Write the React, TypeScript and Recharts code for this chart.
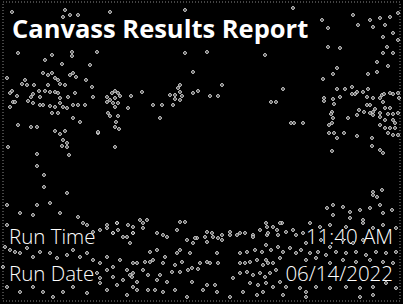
import { ScatterChart, Scatter, XAxis, YAxis, Customized } from "recharts";

// speckle positions, in picture pixels (x, y from top)
const TOP_SPECKS: [number, number][] = [
  [12, 12], [63, 17], [70, 15], [65, 10], [78, 15], [110, 12], [185, 10],
  [18, 53], [72, 52], [72, 56], [97, 52], [185, 53], [207, 52], [52, 55], [45, 60],
  [322, 20], [328, 28], [328, 47], [340, 48], [265, 55], [293, 8],
  [353, 15], [358, 25], [370, 20], [373, 27], [380, 18], [385, 25], [390, 17],
  [393, 33], [383, 37], [387, 47], [393, 53], [383, 53], [398, 13], [398, 40],
];

const LEFT_CLUSTER: [number, number][] = [
  [62, 64], [90, 65], [43, 73], [48, 75], [52, 73], [70, 75], [73, 73], [76, 77],
  [55, 78], [58, 80], [86, 80], [7, 78], [25, 80], [22, 84], [27, 85], [34, 85],
  [48, 85], [60, 84], [65, 85], [12, 91], [10, 93], [17, 96], [39, 91], [45, 91],
  [50, 92], [55, 92], [33, 94], [31, 97], [40, 97], [58, 93], [60, 98], [75, 93],
  [92, 87], [68, 97], [93, 97], [13, 102], [10, 107], [15, 102], [28, 101], [33, 103],
  [40, 105], [43, 105], [50, 106], [55, 107], [60, 103], [63, 107], [67, 108],
  [73, 105], [78, 105], [85, 105], [52, 113], [58, 113], [73, 118], [80, 122],
  [18, 125], [31, 127], [37, 127], [55, 131], [60, 134], [65, 131], [98, 133],
  [63, 140], [67, 143], [62, 146], [67, 147], [8, 147], [69, 155], [37, 154],
  [37, 166], [44, 175], [44, 187], [67, 193],
];

const MID_CLUSTER: [number, number][] = [
  [115, 91], [118, 93], [112, 93], [107, 97], [110, 100], [115, 98], [120, 96],
  [113, 103], [118, 103], [107, 102], [131, 96], [128, 108], [115, 107], [108, 113],
  [110, 116], [118, 116], [116, 122], [115, 127], [119, 129], [98, 132], [115, 147],
  [142, 92], [153, 105], [162, 105], [173, 105], [160, 118], [170, 95], [175, 95],
  [175, 99], [180, 92], [182, 96], [180, 100], [178, 88], [180, 85], [193, 93],
  [198, 91], [193, 72], [222, 85], [210, 96], [218, 96], [283, 89], [271, 102],
  [276, 102], [291, 123], [294, 123], [303, 123],
];

const RIGHT_CLUSTER: [number, number][] = [
  [337, 68], [333, 74], [368, 74], [377, 72], [388, 66], [377, 62], [323, 79],
  [333, 99], [334, 104], [324, 98], [324, 101], [337, 89], [345, 89], [352, 87],
  [357, 92], [363, 92], [368, 89], [340, 97], [352, 94], [355, 94], [367, 97],
  [373, 98], [382, 95], [383, 102], [380, 98], [384, 94], [390, 93], [393, 94],
  [398, 93], [399, 98], [367, 105], [370, 105], [375, 109], [385, 108], [390, 108],
  [359, 110], [364, 112], [370, 113], [373, 112], [380, 113], [388, 114], [393, 114],
  [398, 113], [332, 112], [331, 114], [333, 118], [348, 118], [357, 115], [373, 115],
  [380, 117], [385, 120], [393, 120], [395, 123], [332, 123], [329, 125], [380, 125],
  [385, 128], [390, 128], [395, 128], [329, 133], [334, 133], [344, 133], [337, 138],
  [357, 136], [388, 133], [393, 135], [398, 135], [372, 138], [372, 146], [332, 151],
  [380, 150], [383, 153], [373, 192], [373, 195], [377, 197], [382, 190],
];

const BOTTOM_BAND: [number, number][] = [
  [7, 205], [20, 213], [33, 215], [37, 205], [50, 203], [60, 213], [78, 217], [83, 223],
  [93, 232], [107, 225], [113, 233], [117, 223], [127, 237], [133, 227], [140, 220],
  [147, 220], [157, 233], [167, 237], [177, 230], [180, 222], [187, 240], [197, 238],
  [207, 232], [213, 237], [222, 240], [230, 232], [240, 233], [253, 235], [267, 227],
  [277, 230], [282, 223], [327, 208], [333, 205], [343, 207], [350, 212], [360, 210],
  [370, 208], [380, 205], [383, 213], [392, 210], [333, 215], [350, 218], [363, 220],
  [7, 225], [5, 247], [10, 250], [15, 252], [20, 253], [27, 248], [33, 257], [40, 252],
  [50, 253], [57, 258], [67, 255], [73, 250], [80, 257], [87, 253], [93, 260],
  [100, 263], [107, 257], [113, 267], [120, 260], [127, 270], [133, 263], [100, 230],
  [107, 228], [113, 233], [118, 230], [123, 237], [128, 225], [133, 233], [117, 223],
  [87, 225], [7, 287], [20, 292], [33, 287], [43, 292], [53, 297], [63, 292], [73, 287],
  [87, 293], [100, 283], [107, 290], [117, 285], [127, 295], [133, 287], [97, 273],
  [107, 270], [100, 278], [113, 277], [123, 280], [132, 277], [3, 267],
  [143, 223], [143, 228], [185, 222], [133, 233], [163, 235], [195, 238], [205, 237],
  [212, 233], [222, 235], [230, 235], [237, 235], [245, 233], [253, 237], [260, 230],
  [267, 235], [193, 243], [207, 242], [218, 238], [130, 243], [150, 252], [157, 250],
  [165, 257], [177, 253], [180, 250], [190, 253], [217, 253], [240, 253], [247, 252],
  [255, 250], [262, 252], [137, 263], [145, 262], [150, 262], [153, 260], [163, 263],
  [175, 265], [182, 262], [192, 268], [200, 263], [207, 262], [210, 263], [218, 263],
  [240, 263], [245, 263], [250, 262], [257, 260], [263, 265], [268, 263], [133, 273],
  [143, 270], [148, 275], [160, 275], [172, 272], [180, 272], [188, 270], [198, 269],
  [240, 273], [247, 272], [253, 275], [260, 273], [265, 277], [137, 282], [157, 280],
  [167, 282], [192, 282], [207, 285], [215, 285], [233, 278], [250, 283], [258, 285],
  [137, 290], [148, 290], [155, 290], [163, 292], [175, 290], [187, 297], [203, 290],
  [217, 292], [230, 297], [243, 292], [257, 295], [263, 292], [130, 275],
  [266, 223], [273, 227], [280, 223], [268, 233], [278, 235], [286, 232], [293, 230],
  [296, 235], [303, 233], [266, 245], [271, 250], [278, 247], [283, 252], [290, 248],
  [296, 253], [301, 250], [310, 253], [318, 252], [326, 255], [336, 252], [346, 253],
  [356, 252], [366, 255], [376, 252], [386, 253], [396, 252], [266, 260], [273, 263],
  [280, 258], [270, 273], [276, 270], [266, 283], [273, 287], [280, 282], [286, 287],
  [300, 288], [306, 292], [316, 287], [330, 288], [346, 287], [360, 288], [373, 287],
  [386, 283], [396, 288], [310, 223], [320, 227], [330, 225], [346, 227], [363, 223],
  [373, 228], [383, 225], [396, 228], [306, 243], [321, 240], [330, 247], [343, 240],
  [353, 243], [363, 240], [306, 260], [316, 258], [330, 263], [343, 260], [356, 262],
  [370, 260], [383, 262], [393, 263], [360, 297], [373, 295], [306, 297], [283, 295],
];

const TITLE = "Canvass Results Report";
const ROW_LABELS = ["Run Time", "Run Date"];
const ROW_VALUES = ["11:40 AM", "06/14/2022"];

const toPoints = (list: [number, number][]) => list.map(([x, y]) => ({ x, y }));
const specks = toPoints([
  ...TOP_SPECKS,
  ...LEFT_CLUSTER,
  ...MID_CLUSTER,
  ...RIGHT_CLUSTER,
  ...BOTTOM_BAND,
]);

const Speck = (props: any) => (
  <circle cx={props.cx} cy={props.cy} r={1.4} fill="#000" stroke="#e8e8e8" strokeWidth={1} />
);

const font = "'Open Sans', sans-serif";

const Overlay = () => (
  <g>
    <rect x={3} y={2} width={397} height={299} fill="none" stroke="#8a8a8a" strokeDasharray="1 2" />
    <text x={12} y={38} fill="#fff" fontFamily={font} fontWeight={700} fontSize={25.5}>
      {TITLE}
    </text>
    {ROW_LABELS.map((label, i) => (
      <text key={label} x={9} y={244 + i * 37} fill="#fff" fontFamily={font} fontWeight={300} fontSize={20.5}>
        {label}
      </text>
    ))}
    {ROW_VALUES.map((v, i) => (
      <text key={v} x={393} y={244 + i * 37} textAnchor="end" fill="#fff" fontFamily={font} fontWeight={300} fontSize={20.5}>
        {v}
      </text>
    ))}
  </g>
);

export default function App() {
  return (
    <div style={{ position: "fixed", left: 0, top: 0, width: 403, height: 304, background: "#000" }}>
      <ScatterChart width={403} height={304} margin={{ top: 0, right: 0, bottom: 0, left: 0 }}>
        <XAxis type="number" dataKey="x" domain={[0, 403]} hide />
        <YAxis type="number" dataKey="y" domain={[0, 304]} reversed hide />
        <Scatter data={specks} shape={<Speck />} isAnimationActive={false} />
        <Customized component={Overlay} />
      </ScatterChart>
    </div>
  );
}
